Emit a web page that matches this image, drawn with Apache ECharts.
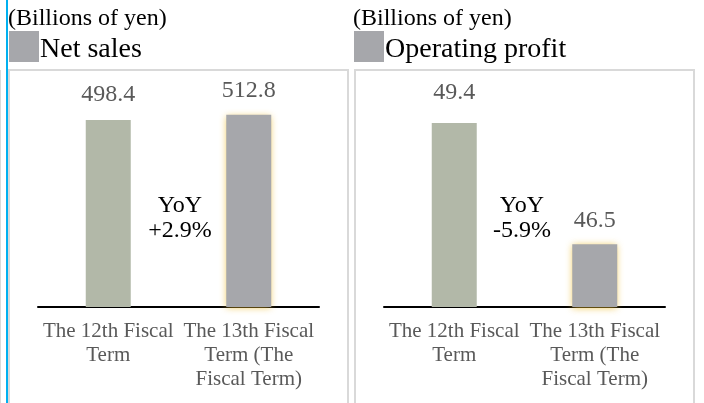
<!DOCTYPE html>
<html>
<head>
<meta charset="utf-8">
<script src="https://cdn.jsdelivr.net/npm/echarts@6/dist/echarts.min.js"></script>
<style>
  html, body { margin: 0; padding: 0; background: #fff; }
  #chartID { width: 704px; height: 403px; }
</style>
</head>
<body>
<div id="chartID"></div>
<script>
var categories = ['The 12th Fiscal\nTerm', 'The 13th Fiscal\nTerm (The\nFiscal Term)'];
var salesData = [498.4, 512.8];
var profitData = [49.4, 46.5];
var panelTitles = ['Net sales', 'Operating profit'];
var unitText = '(Billions of yen)';
var yoyTexts = ['YoY\n+2.9%', 'YoY\n-5.9%'];

var serif = '"Liberation Serif", "Times New Roman", serif';
var barColors = ['#B2B8A8', '#A6A7AB'];

var myChart = echarts.init(document.getElementById('chartID'));

// bars: first one plain, second one with the yellow glow
var makeData = function(values, firstDistance){
  var out = [];
  for (var i = 0; i < values.length; i++) {
    var item = { value: values[i], itemStyle: { color: barColors[i] } };
    if (i == 0) {
      item.label = { distance: firstDistance };
    }
    if (i == 1) {
      item.itemStyle.shadowColor = 'rgba(235, 185, 40, 0.75)';
      item.itemStyle.shadowBlur = 7;
      item.itemStyle.shadowOffsetY = 1;
    }
    out.push(item);
  }
  return out;
}

var xAxisCfg = function(idx){
  return {
    type: 'category',
    gridIndex: idx,
    data: categories,
    axisLine: { lineStyle: { color: '#000', width: 2 } },
    axisTick: { show: false },
    axisLabel: {
      interval: 0,
      margin: 12,
      color: '#595959',
      fontFamily: serif,
      fontSize: 21,
      lineHeight: 24
    }
  };
}

var labelCfg = {
  show: true,
  position: 'top',
  distance: 12,
  color: '#595959',
  fontFamily: serif,
  fontSize: 24
};

var headerGraphics = function(x0, title){
  return [
    { type: 'text', left: x0, top: 7, style: { text: unitText, font: '24px ' + serif, fill: '#000' } },
    { type: 'rect', shape: { x: x0 + 1, y: 31, width: 30, height: 31 }, style: { fill: '#A6A7AB' } },
    { type: 'text', left: x0 + 32, top: 36, style: { text: title, font: '28px ' + serif, fill: '#000' } }
  ];
}

var yoyText = function(x, txt){
  return { type: 'text', style: { x: x, y: 218, text: txt, font: '24px ' + serif, fill: '#000', align: 'center', verticalAlign: 'middle', lineHeight: 25 } };
}

var option = {
  animation: false,
  grid: [
    { left: 38, top: 70, width: 281, height: 237 },
    { left: 384, top: 70, width: 281, height: 237 }
  ],
  xAxis: [xAxisCfg(0), xAxisCfg(1)],
  yAxis: [
    { type: 'value', gridIndex: 0, min: 0, max: 632, show: false },
    { type: 'value', gridIndex: 1, min: 45, max: 50.67, show: false }
  ],
  series: [
    {
      type: 'bar', xAxisIndex: 0, yAxisIndex: 0,
      barWidth: 45,
      data: makeData(salesData, 13),
      label: labelCfg
    },
    {
      type: 'bar', xAxisIndex: 1, yAxisIndex: 1,
      barWidth: 45,
      data: makeData(profitData, 18),
      label: labelCfg
    }
  ],
  graphic: [].concat(
    [
      { type: 'rect', shape: { x: 9, y: 70, width: 339, height: 345 }, style: { fill: 'none', stroke: '#D9D9D9', lineWidth: 2 }, z: -1 },
      { type: 'rect', shape: { x: 355, y: 70, width: 339, height: 345 }, style: { fill: 'none', stroke: '#D9D9D9', lineWidth: 2 }, z: -1 },
      { type: 'line', shape: { x1: 0.5, y1: 70, x2: 0.5, y2: 403 }, style: { stroke: '#D9D9D9', lineWidth: 1 } },
      { type: 'rect', shape: { x: 6, y: 0, width: 2, height: 403 }, style: { fill: '#00B0F0' } },
      yoyText(180, yoyTexts[0]),
      yoyText(522, yoyTexts[1])
    ],
    headerGraphics(8, panelTitles[0]),
    headerGraphics(353, panelTitles[1])
  )
};

myChart.setOption(option);
</script>
</body>
</html>
